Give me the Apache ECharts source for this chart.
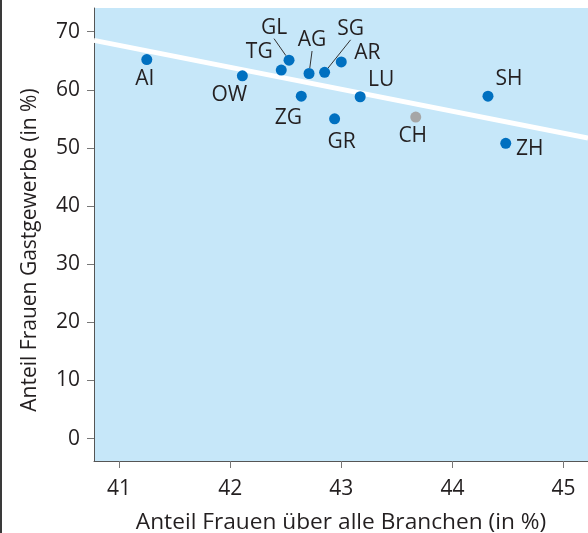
<!DOCTYPE html>
<html>
<head>
<meta charset="utf-8">
<script src="https://cdn.jsdelivr.net/npm/echarts@6/dist/echarts.min.js"></script>
<style>
  html, body { margin: 0; padding: 0; background: #fff; }
  #chart { width: 588px; height: 533px; }
</style>
</head>
<body>
<div id="chart"></div>
<script>
// Kantone
const cantons = ["AI", "OW", "TG", "GL", "AG", "SG", "AR", "ZG", "GR", "LU", "CH", "SH", "ZH"]
// Anteil Frauen über alle Branchen (in %)
const shareAll = [41.25, 42.11, 42.46, 42.53, 42.71, 42.85, 43.0, 42.64, 42.94, 43.17, 43.67, 44.32, 44.48]
// Anteil Frauen Gastgewerbe (in %)
const shareGastro = [65.2, 62.4, 63.4, 65.1, 62.8, 63.0, 64.8, 58.9, 55.0, 58.8, 55.3, 58.9, 50.8]
// Trendlinie (Anfang / Ende)
const trendX = [40.775, 45.22]
const trendY = [68.5, 51.7]
// Achsenticks
const xTicks = [41, 42, 43, 44, 45]
const yTicks = [0, 10, 20, 30, 40, 50, 60, 70]

// Label-Verschiebung in px (Stil, keine Daten)
const labelOffsets = {
  AI: [-2, 19], OW: [-13, 19], TG: [-22, -18], GL: [-15, -32], AG: [3, -33],
  SG: [26, -43], AR: [26, -9], ZG: [-13, 22], GR: [7, 23], LU: [21, -17],
  CH: [-3, 19], SH: [21, -17], ZH: [24, 6],
}
const withLeader = ["GL", "AG", "SG"]

const FONT = "Open Sans"
const TEXT = "#231f20"
const SIZE = 21

const myChart = echarts.init(document.getElementById("chart"))

const scatterData = cantons.map((name, i) => ({
  name: name,
  value: [shareAll[i], shareGastro[i]],
  itemStyle: { color: name === "CH" ? "#a6a6a6" : "#0070c0", opacity: 1 },
  labelLine: { show: withLeader.includes(name) },
}))

let option = {
  animation: false,
  textStyle: { fontFamily: FONT },
  grid: {
    left: 94, top: 8, right: 0, bottom: 72,
    containLabel: false, outerBoundsMode: "none",
    show: true, backgroundColor: "#c6e7f9", borderWidth: 0,
  },
  xAxis: {
    type: "value",
    min: 40.775,
    max: 45.22,
    name: "Anteil Frauen über alle Branchen (in %)",
    nameLocation: "middle",
    nameGap: 50,
    nameTextStyle: { color: TEXT, fontSize: 22.7, fontFamily: FONT },
    axisLine: { show: true, onZero: false, lineStyle: { color: "#555", width: 1 } },
    axisTick: { show: true, length: 7, customValues: xTicks, lineStyle: { color: "#777" } },
    axisLabel: { customValues: xTicks, color: TEXT, fontSize: SIZE, margin: 18, fontFamily: FONT },
    splitLine: { show: false },
  },
  yAxis: {
    type: "value",
    min: -3.86,
    max: 74.07,
    axisLine: { show: true, onZero: false, lineStyle: { color: "#555", width: 1 } },
    axisTick: { show: true, length: 7, customValues: yTicks, lineStyle: { color: "#777" } },
    axisLabel: { customValues: yTicks, color: TEXT, fontSize: SIZE, margin: 14, fontFamily: FONT },
    splitLine: { show: false },
  },
  graphic: [
    {
      type: "text",
      x: 30,
      y: 250,
      rotation: Math.PI / 2,
      style: {
        text: "Anteil Frauen Gastgewerbe (in %)",
        fill: TEXT,
        font: SIZE + "px " + FONT,
        align: "center",
        verticalAlign: "middle",
      },
    },
    {
      type: "rect",
      shape: { x: 0, y: 0, width: 2, height: 533 },
      style: { fill: "#3a3a3a" },
    },
  ],
  series: [
    {
      type: "line",
      data: trendX.map((x, i) => [x, trendY[i]]),
      symbol: "none",
      lineStyle: { color: "#fff", width: 5 },
      z: 1,
      silent: true,
    },
    {
      type: "scatter",
      data: scatterData,
      symbolSize: 11,
      z: 3,
      label: {
        show: true,
        position: "inside",
        formatter: "{b}",
        color: TEXT,
        fontSize: SIZE,
        fontFamily: FONT,
      },
      labelLayout: (params) => {
        const off = labelOffsets[cantons[params.dataIndex]]
        return { dx: off[0], dy: off[1] }
      },
      labelLine: { show: false, lineStyle: { color: "#333", width: 1 } },
    },
  ],
}
myChart.setOption(option)
</script>
</body>
</html>
